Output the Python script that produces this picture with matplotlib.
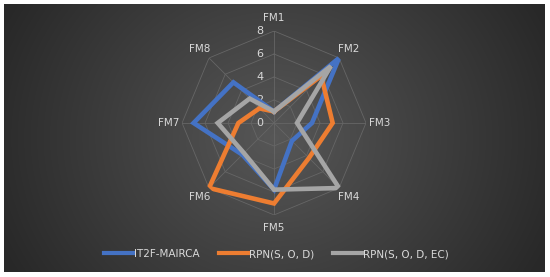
import numpy as np
import matplotlib.pyplot as plt
from matplotlib.lines import Line2D

categories = ['FM1', 'FM2', 'FM3', 'FM4', 'FM5', 'FM6', 'FM7', 'FM8']
it2f_mairca = [1, 8, 3.3, 2.2, 5.8, 3.9, 7, 5]
rpn_sod = [1, 5.8, 5.1, 4.3, 7, 8, 3.1, 1.8]
rpn_sodec = [1, 7, 2, 8, 5.8, 3.7, 4.9, 3]
series_names = ['IT2F-MAIRCA', 'RPN(S, O, D)', 'RPN(S, O, D, EC)']
ticks = [0, 2, 4, 6, 8]

colors = ['#4472C4', '#ED7D31', '#A5A5A5']
txt = '#D9D9D9'

fig = plt.figure(figsize=(5.5, 2.77), dpi=100)
fig.patch.set_facecolor('white')

# dark panel with radial gradient
bg = fig.add_axes([4 / 550, 5 / 277, 541 / 550, 268 / 277])
yy, xx = np.mgrid[-1:1:200j, -1:1:400j]
rr = np.sqrt(xx ** 2 + (yy * 0.55) ** 2)
shade = 0.34 - 0.18 * np.clip(rr / 1.1, 0, 1)
bg.imshow(np.dstack([shade, shade, shade]), aspect='auto',
          extent=[0, 1, 0, 1], interpolation='bilinear')
bg.axis('off')

ax = fig.add_axes([0.331, 0.224, 0.3345, 0.664], projection='polar')
ax.set_facecolor('none')
ax.set_theta_zero_location('N')
ax.set_theta_direction(-1)
ax.set_ylim(0, 8)
ax.grid(False)
ax.set_xticks([])
ax.set_yticks([])
ax.spines['polar'].set_visible(False)

n = len(categories)
theta = np.linspace(0, 2 * np.pi, n, endpoint=False)
tc = np.append(theta, theta[0])

# octagonal grid
for t in ticks[1:]:
    ax.plot(tc, [t] * (n + 1), color='#666666', lw=0.6, zorder=1)
for th in theta:
    ax.plot([th, th], [0, 8], color='#666666', lw=0.6, zorder=1)

for vals, c in zip([it2f_mairca, rpn_sod, rpn_sodec], colors):
    ax.plot(tc, vals + vals[:1], color=c, lw=3.3, zorder=3,
            solid_joinstyle='miter')

for th, lab in zip(theta, categories):
    ax.text(th, 9.15, lab, color=txt, fontsize=7.5, ha='center', va='center')

for t in ticks:
    ax.annotate(str(t), xy=(0, t), xytext=(-10, 0), textcoords='offset points',
                color=txt, fontsize=8, ha='center', va='center', zorder=2)

handles = [Line2D([0], [0], color=c, lw=3) for c in colors]
fig.legend(handles, series_names, loc='center', bbox_to_anchor=(0.503, 0.083),
           ncol=3, frameon=False, fontsize=7.5, labelcolor=txt,
           handlelength=2.8, handletextpad=0.1, columnspacing=1.8)

fig.savefig('out.png', dpi=100, facecolor='white')
